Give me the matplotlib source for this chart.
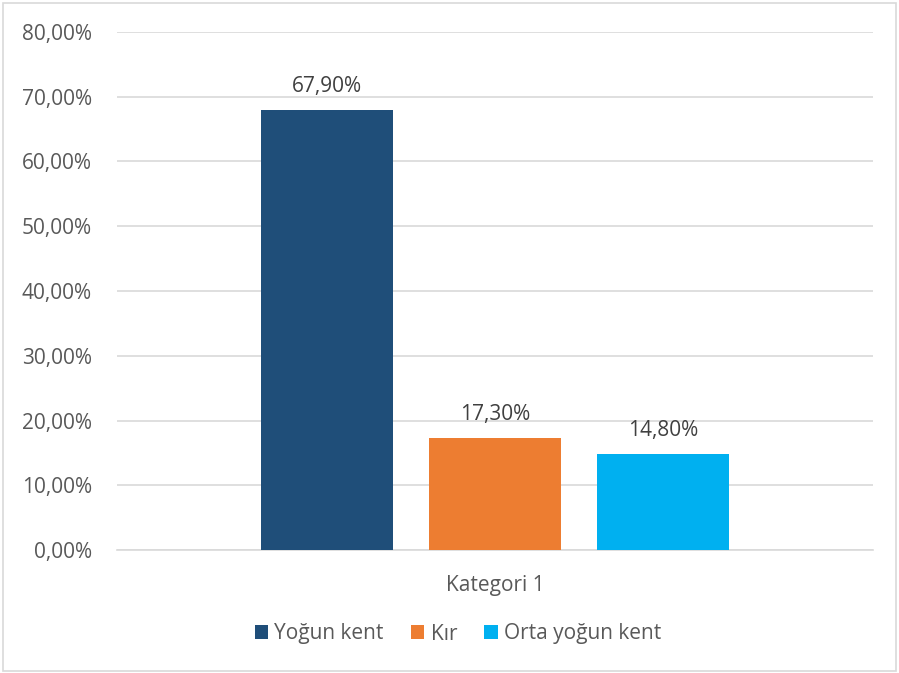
import matplotlib
matplotlib.use("Agg")
import matplotlib.pyplot as plt
from matplotlib.patches import Rectangle

series = ["Yoğun kent", "Kır", "Orta yoğun kent"]
values = [67.9, 17.3, 14.8]
labels = ["67,90%", "17,30%", "14,80%"]
colors = ["#1F4E79", "#ED7D31", "#00B0F0"]
category = "Kategori 1"
yticks = [0, 10, 20, 30, 40, 50, 60, 70, 80]
ytick_labels = ["0,00%", "10,00%", "20,00%", "30,00%", "40,00%", "50,00%", "60,00%", "70,00%", "80,00%"]

plt.rcParams['font.family'] = ['Open Sans', 'DejaVu Sans']
txt = "#595959"
fs = 15

fig = plt.figure(figsize=(8.99, 6.73), dpi=100)
fig.patches.append(Rectangle((3/899, 2/673), 893/899, 668/673, transform=fig.transFigure,
                             fill=False, edgecolor="#D9D9D9", linewidth=1.2))
ax = fig.add_axes([117/899, 1 - 550/673, 756/899, 518/673])

pos = [-1, 0, 1]
w = 132/168
for p, v, c, s, l in zip(pos, values, colors, series, labels):
    ax.bar(p, v, width=w, color=c, label=s, zorder=3)
    ax.annotate(l, (p, v), xytext=(0, 17), textcoords="offset points",
                ha="center", va="center", fontsize=fs, color="#404040")

ax.set_xlim(-2.25, 2.25)
ax.set_ylim(0, 80)
ax.set_yticks(yticks)
ax.set_yticklabels(ytick_labels, fontsize=fs, color=txt)
ax.set_xticks([0])
ax.set_xticklabels([category], fontsize=fs, color=txt)
ax.tick_params(axis="both", length=0)
ax.tick_params(axis="y", pad=18)
ax.tick_params(axis="x", pad=18)
ax.grid(axis="y", color="#D9D9D9", linewidth=1.2, zorder=0)
for sp in ["top", "right", "left"]:
    ax.spines[sp].set_visible(False)
ax.spines["bottom"].set_color("#D9D9D9")
ax.spines["bottom"].set_linewidth(1.2)

leg = fig.legend(loc="center", bbox_to_anchor=(458/899, 1 - 634/673), ncol=3, frameon=False,
                 fontsize=fs, handlelength=0.65, handleheight=0.65, handletextpad=0.3,
                 columnspacing=1.3)
for t in leg.get_texts():
    t.set_color(txt)

fig.savefig("out.png", dpi=100)
